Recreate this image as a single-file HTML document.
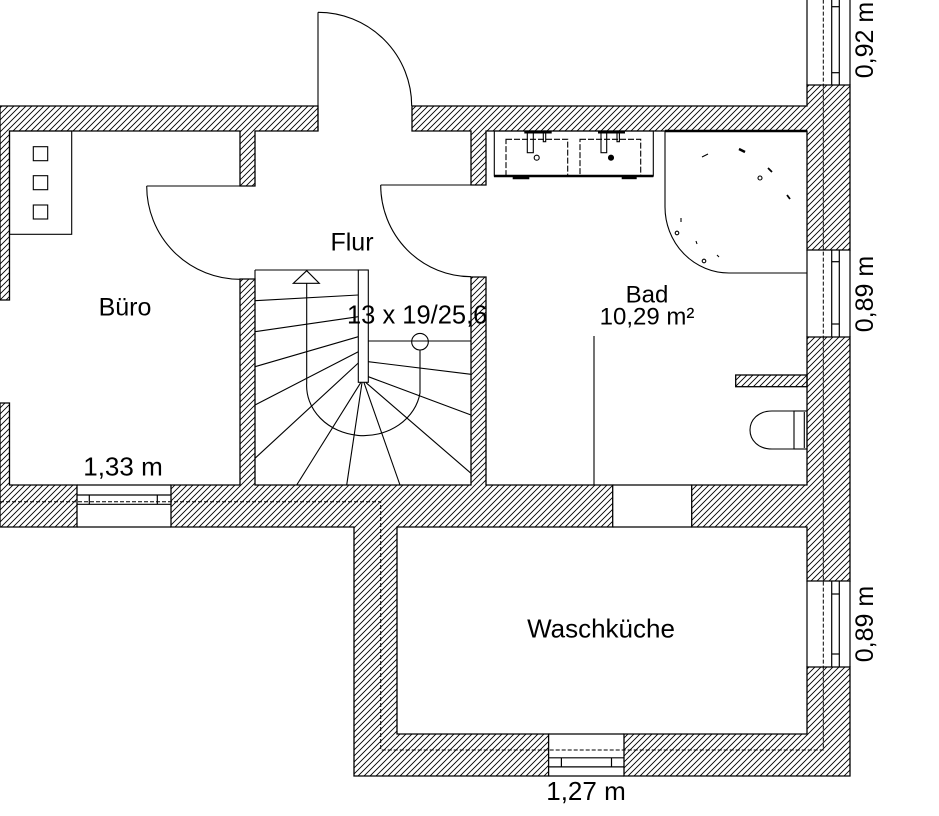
<!DOCTYPE html>
<html><head><meta charset="utf-8"><style>
html,body{margin:0;padding:0;background:#fff;}
svg{display:block;}
text{font-family:"Liberation Sans",Arial,sans-serif;font-size:25px;fill:#000;}
</style></head><body>
<svg width="939" height="816" viewBox="0 0 939 816" xmlns="http://www.w3.org/2000/svg">
<defs>
<pattern id="h" width="6" height="6" patternUnits="userSpaceOnUse">
<path d="M-1,1 L1,-1 M0,6 L6,0 M5,7 L7,5" stroke="#000" stroke-width="0.9" fill="none"/>
</pattern>
</defs>
<rect width="939" height="816" fill="#fff"/>

<g fill="url(#h)" stroke="#000" stroke-width="1.3" stroke-linejoin="miter">
<polygon points="0,106 318,106 318,131 255,131 255,186 240,186 240,131 9.5,131 9.5,300 0,300"/>
<polygon points="412,106 807,106 807,85 850,85 850,250 807,250 807,131 486,131 486,185 471,185 471,131 412,131"/>
<polygon points="0,403 9.5,403 9.5,485 77,485 77,527 0,527"/>
<polygon points="171,485 240,485 240,279 255,279 255,485 471,485 471,277 486,277 486,485 612.7,485 612.7,527 397,527 397,734 548.6,734 548.6,776 354,776 354,527 171,527"/>
<polygon points="691.7,485 807,485 807,337 850,337 850,581 807,581 807,527 691.7,527"/>
<polygon points="807,667 850,667 850,776 624,776 624,734 807,734"/>
<rect x="735.7" y="375" width="71.3" height="11.7"/>
</g>

<g stroke="#000" stroke-width="1.2" fill="none">
<line x1="77" y1="485" x2="171" y2="485"/>
<line x1="77" y1="527" x2="171" y2="527"/>
<line x1="77" y1="495" x2="171" y2="495"/>
<line x1="77" y1="504.3" x2="171" y2="504.3"/>
<line x1="89.3" y1="495" x2="89.3" y2="504.3"/>
<line x1="157.3" y1="495" x2="157.3" y2="504.3"/>
<line x1="612.7" y1="485" x2="691.7" y2="485"/>
<line x1="612.7" y1="527" x2="691.7" y2="527"/>
<line x1="548.6" y1="734" x2="624" y2="734"/>
<line x1="548.6" y1="776" x2="624" y2="776"/>
<line x1="548.6" y1="757.8" x2="624" y2="757.8"/>
<line x1="548.6" y1="766.9" x2="624" y2="766.9"/>
<line x1="561.4" y1="757.8" x2="561.4" y2="766.9"/>
<line x1="611.5" y1="757.8" x2="611.5" y2="766.9"/>
<line x1="807" y1="0" x2="807" y2="85"/>
<line x1="850" y1="0" x2="850" y2="85"/>
<line x1="831.7" y1="0" x2="831.7" y2="85"/>
<line x1="839.3" y1="0" x2="839.3" y2="85"/>
<line x1="831.7" y1="6.7" x2="839.3" y2="6.7"/>
<line x1="831.7" y1="72.7" x2="839.3" y2="72.7"/>
<line x1="807" y1="250" x2="807" y2="337"/>
<line x1="850" y1="250" x2="850" y2="337"/>
<line x1="831.7" y1="250" x2="831.7" y2="337"/>
<line x1="839.3" y1="250" x2="839.3" y2="337"/>
<line x1="831.7" y1="261.7" x2="839.3" y2="261.7"/>
<line x1="831.7" y1="324" x2="839.3" y2="324"/>
<line x1="807" y1="581" x2="807" y2="667"/>
<line x1="850" y1="581" x2="850" y2="667"/>
<line x1="831.7" y1="581" x2="831.7" y2="667"/>
<line x1="839.3" y1="581" x2="839.3" y2="667"/>
<line x1="831.7" y1="594" x2="839.3" y2="594"/>
<line x1="831.7" y1="654" x2="839.3" y2="654"/>
</g>

<path d="M0,501.7 L380.7,501.7 L380.7,750 L823.3,750 L823.3,0" stroke="#000" stroke-width="1" stroke-dasharray="4,2" fill="none"/>

<g stroke="#000" stroke-width="1.1" fill="none">
<line x1="146.7" y1="186" x2="240" y2="186"/>
<path d="M146.7,186 A93.3,93.3 0 0 0 240,279.3"/>
<line x1="318" y1="131" x2="318" y2="12.3"/>
<path d="M318,12.3 A93.7,93.7 0 0 1 411.7,106"/>
<line x1="380.7" y1="185" x2="471" y2="185"/>
<path d="M380.7,185 A90.3,91.7 0 0 0 471,276.7"/>

<rect x="9.5" y="131" width="62.2" height="103.3"/>
<rect x="33.3" y="146.7" width="14.4" height="14"/>
<rect x="33.3" y="175.7" width="14.4" height="14"/>
<rect x="33.3" y="205" width="14.4" height="14"/>

<line x1="255" y1="270" x2="368.3" y2="270"/>
<line x1="255" y1="270" x2="255" y2="279"/>
<rect x="358.3" y="270" width="10" height="112.3" fill="#fff"/>
<line x1="368.3" y1="341" x2="471" y2="341"/>
<line x1="255" y1="300.7" x2="358.3" y2="295"/>
<line x1="255" y1="331.7" x2="358.3" y2="316.7"/>
<line x1="255" y1="366.7" x2="358.3" y2="336.7"/>
<line x1="255" y1="405" x2="358.3" y2="351.7"/>
<line x1="255" y1="458.3" x2="358.3" y2="363"/>
<line x1="360.7" y1="382.7" x2="296.7" y2="485"/>
<line x1="362" y1="382.7" x2="346.7" y2="485"/>
<line x1="364" y1="382.7" x2="400" y2="485"/>
<line x1="366" y1="382.7" x2="471" y2="473.3"/>
<line x1="368.3" y1="361.7" x2="471" y2="374.3"/>
<line x1="368.3" y1="376.7" x2="471" y2="415"/>
<polygon points="306.7,270.7 293.3,283.3 319.3,283.3"/>
<path d="M306.7,283.3 L306.7,383 A57,50 0 0 0 420,393 L420,350"/>
<circle cx="420" cy="341.7" r="8.3"/>

<line x1="594" y1="336" x2="594" y2="485"/>

<path d="M665,131 L665,207 A64,66 0 0 0 729,273 L807,273"/>

<rect x="494.3" y="131" width="159" height="45"/>
<rect x="506" y="139.3" width="61.7" height="36.7" stroke-dasharray="6,2"/>
<rect x="580" y="139.3" width="60.7" height="36.7" stroke-dasharray="6,2"/>
<rect x="527.3" y="131" width="6" height="21.7"/>
<rect x="601" y="131" width="5.7" height="21.7"/>
<rect x="543.3" y="131" width="2.4" height="10.7"/>
<rect x="617" y="131" width="2.4" height="10.7"/>
<circle cx="536.7" cy="157.7" r="2.5"/>
<circle cx="611" cy="157.7" r="2.5" fill="#000"/>

<rect x="794" y="411" width="13" height="38"/>
<line x1="804.3" y1="412" x2="804.3" y2="448"/>
<path d="M794,411 L772,411 C758,411 750,420 750,430 C750,440 758,449 772,449 L794,449"/>

<line x1="702" y1="157" x2="708" y2="154"/>
<circle cx="760" cy="178" r="2"/>
<circle cx="677" cy="233" r="1.8"/>
<circle cx="704" cy="261" r="1.8"/>
<line x1="681" y1="218" x2="681" y2="222"/>
<line x1="696" y1="241" x2="697" y2="244"/>
<line x1="717" y1="255" x2="719" y2="257"/>
</g>
<g stroke="#000" stroke-width="2.4" fill="none">
<line x1="494" y1="176" x2="653.3" y2="176"/>
<line x1="665" y1="131" x2="807" y2="131"/>
<line x1="512.7" y1="178" x2="529.3" y2="178"/>
<line x1="621.7" y1="178" x2="636.7" y2="178"/>
<line x1="524.3" y1="132.5" x2="551.7" y2="132.5" stroke-width="2"/>
<line x1="598" y1="132.5" x2="625" y2="132.5" stroke-width="2"/>
<line x1="739" y1="149" x2="745" y2="152"/>
<line x1="768" y1="168" x2="772" y2="172" stroke-width="1.8"/>
<line x1="787" y1="195" x2="790" y2="199" stroke-width="1.8"/>
</g>

<text x="352" y="250.7" text-anchor="middle">Flur</text>
<text x="125" y="315.7" text-anchor="middle">Büro</text>
<text x="347" y="323.3" style="font-size:25.5px">13 x 19/25,6</text>
<text x="647" y="302.3" text-anchor="middle" style="font-size:24px">Bad</text>
<text x="647" y="324.3" text-anchor="middle" style="font-size:24px">10,29 m²</text>
<text x="123" y="475.7" text-anchor="middle" style="font-size:26px">1,33 m</text>
<text x="601" y="637.5" text-anchor="middle" style="font-size:26px">Waschküche</text>
<text x="586" y="800" text-anchor="middle" style="font-size:26px">1,27 m</text>
<text transform="translate(873,40) rotate(-90)" text-anchor="middle">0,92 m</text>
<text transform="translate(873,294) rotate(-90)" text-anchor="middle">0,89 m</text>
<text transform="translate(873,624) rotate(-90)" text-anchor="middle">0,89 m</text>
</svg>
</body></html>
